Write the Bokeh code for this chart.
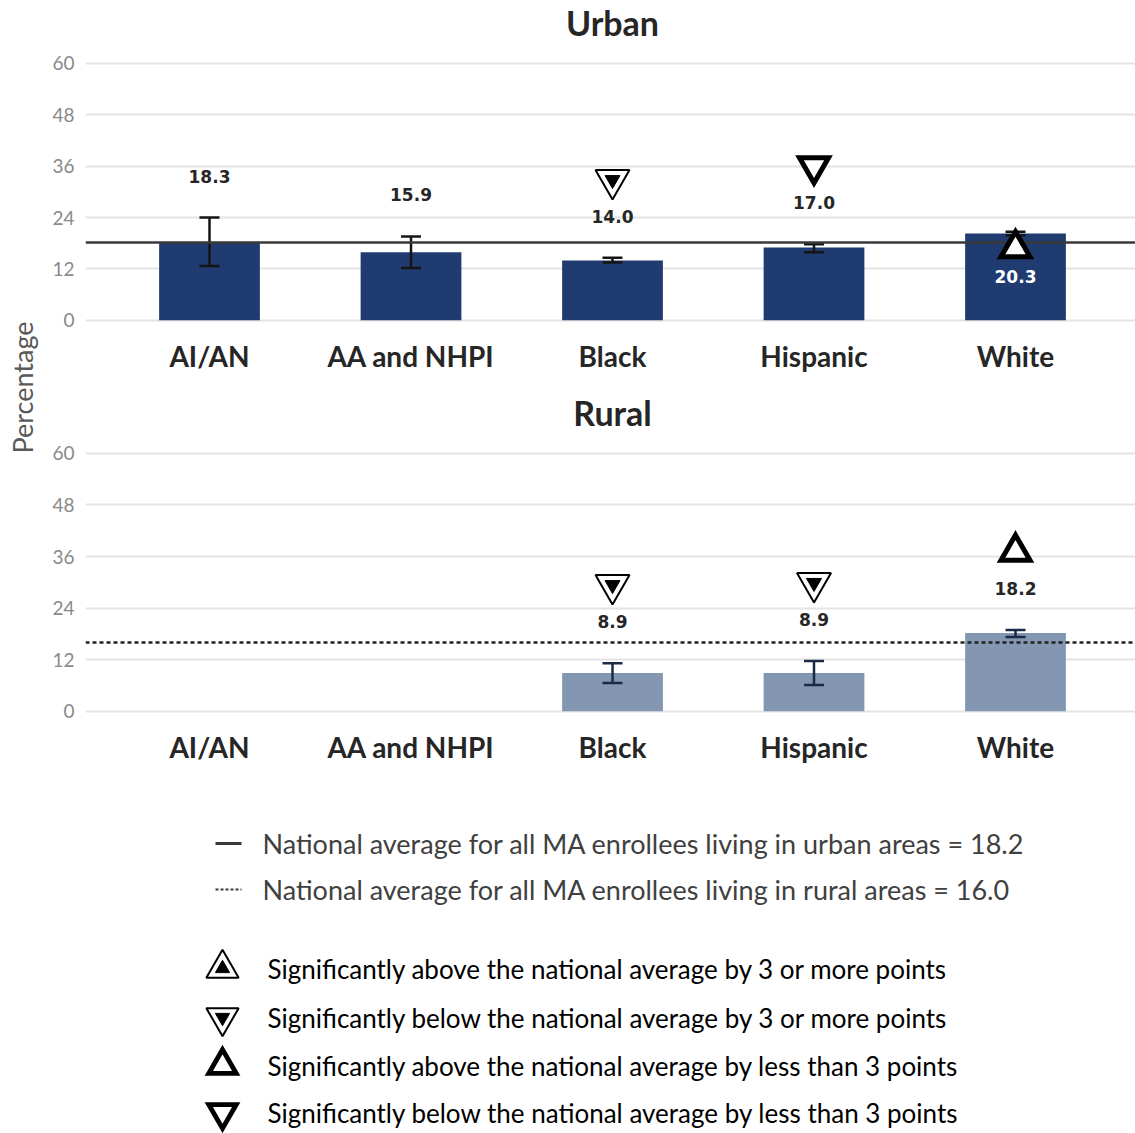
import math
from bokeh.plotting import figure
from bokeh.models import Range1d, FixedTicker, Span, Whisker, TeeHead, ColumnDataSource
from bokeh.layouts import column, row
from bokeh.core.properties import value
from bokeh.embed import file_html
from bokeh.resources import INLINE

# ---------------- data ----------------
categories = ["AI/AN", "AA and NHPI", "Black", "Hispanic", "White"]

urban_values = [18.3, 15.9, 14.0, 17.0, 20.3]
urban_lower = [12.7, 12.2, 13.5, 15.9, 19.9]
urban_upper = [24.0, 19.6, 14.6, 17.8, 20.7]
urban_sig = [None, None, "below3", "below_lt3", "above_lt3"]
urban_label_inside = [False, False, False, False, True]

rural_values = [None, None, 8.9, 8.9, 18.2]
rural_lower = [None, None, 6.6, 6.1, 17.3]
rural_upper = [None, None, 11.2, 11.7, 18.9]
rural_sig = [None, None, "below3", "below3", "above_lt3"]
rural_label_inside = [False, False, False, False, False]

urban_avg = 18.2
rural_avg = 16.0
y_ticks = [0, 12, 24, 36, 48, 60]

avg_legend = [
    "National average for all MA enrollees living in urban areas = 18.2",
    "National average for all MA enrollees living in rural areas = 16.0",
]
sig_legend_keys = ["above3", "below3", "above_lt3", "below_lt3"]
sig_legend_text = [
    "Significantly above the national average by 3 or more points",
    "Significantly below the national average by 3 or more points",
    "Significantly above the national average by less than 3 points",
    "Significantly below the national average by less than 3 points",
]

# ---------------- style ----------------
FONT = "Lato"
URBAN_COLOR = "#1f3b6f"
RURAL_COLOR = "#8397b3"
LABEL_GAP = 9.7     # value label above error bar top (data units)
MARK_GAP = 8.5      # marker above value label (data units)

X0 = -0.6154
X1 = 4.5955
PANEL_W = 1087
YLAB_W = 48


def add_markers(p, xs, ys, kinds, scale=1.0):
    for kind in ["above3", "below3", "above_lt3", "below_lt3"]:
        px = [x for x, k in zip(xs, kinds) if k == kind]
        py = [y for y, k in zip(ys, kinds) if k == kind]
        if not px:
            continue
        shape = "triangle" if kind.startswith("above") else "inverted_triangle"
        if kind.endswith("lt3"):
            r = p.scatter(px, py, marker=shape, size=29 * scale, fill_color="white",
                          line_color="black", line_width=5 * scale, line_join="miter")
            r.level = "overlay"
        else:
            r = p.scatter(px, py, marker=shape, size=34 * scale, fill_color="white",
                          line_color="black", line_width=2)
            r.level = "overlay"
            r2 = p.scatter(px, py, marker=shape, size=15 * scale, fill_color="black",
                           line_color="black", line_width=1)
            r2.level = "overlay"


def make_panel(title, vals, lower, upper, sig, inside, avg, dash, bar_color, err_color,
               height, y_end, border_bottom, title_y):
    p = figure(width=PANEL_W, height=height, x_range=Range1d(X0, X1),
               y_range=Range1d(-0.5, y_end),
               toolbar_location=None, output_backend="svg",
               min_border_left=37, min_border_right=0,
               min_border_top=0, min_border_bottom=border_bottom)
    p.outline_line_color = None
    p.background_fill_color = "white"
    p.border_fill_color = "white"

    p.yaxis.ticker = FixedTicker(ticks=y_ticks)
    p.yaxis.axis_line_color = None
    p.yaxis.major_tick_line_color = None
    p.yaxis.major_tick_out = 0
    p.yaxis.minor_tick_line_color = None
    p.yaxis.major_label_text_color = "#8a8a8a"
    p.yaxis.major_label_text_font = FONT
    p.yaxis.major_label_text_font_size = "19px"
    p.yaxis.major_label_standoff = 11

    p.xaxis.ticker = FixedTicker(ticks=list(range(len(categories))))
    p.xaxis.major_label_overrides = {i: c for i, c in enumerate(categories)}
    p.xaxis.axis_line_color = None
    p.xaxis.major_tick_line_color = None
    p.xaxis.major_tick_out = 0
    p.xaxis.minor_tick_line_color = None
    p.xaxis.major_label_text_color = "#262626"
    p.xaxis.major_label_text_font = FONT
    p.xaxis.major_label_text_font_style = "bold"
    p.xaxis.major_label_text_font_size = "28px"
    p.xaxis.major_label_standoff = 16

    p.xgrid.grid_line_color = None
    p.ygrid.ticker = FixedTicker(ticks=y_ticks)
    p.ygrid.grid_line_color = "#e4e4e4"
    p.ygrid.grid_line_width = 2

    idx = [i for i, v in enumerate(vals) if v is not None]
    src = ColumnDataSource(dict(x=idx, top=[vals[i] for i in idx],
                                lower=[lower[i] for i in idx], upper=[upper[i] for i in idx]))
    p.vbar(x="x", top="top", width=0.5, source=src, fill_color=bar_color, line_color=None)

    w = Whisker(base="x", upper="upper", lower="lower", source=src,
                line_color=err_color, line_width=2.5, level="annotation",
                upper_head=TeeHead(size=20, line_color=err_color, line_width=2.5),
                lower_head=TeeHead(size=20, line_color=err_color, line_width=2.5))
    p.add_layout(w)

    span = Span(location=avg, dimension="width",
                line_color="#3a3a3a" if dash is None else "#222222",
                line_width=2.5, level="annotation")
    if dash is not None:
        span.line_dash = dash
    p.add_layout(span)

    lab_x, lab_y, lab_c, lab_t = [], [], [], []
    mk_x, mk_y, mk_k = [], [], []
    for i in idx:
        if inside[i]:
            ly = vals[i] / 2
            lab_c.append("white")
        else:
            ly = upper[i] + LABEL_GAP
            lab_c.append("#262626")
        lab_x.append(i)
        lab_y.append(ly)
        lab_t.append(f"{vals[i]:.1f}")
        if sig[i] is not None:
            mk_x.append(i)
            mk_k.append(sig[i])
            mk_y.append(vals[i] - 3.5 if inside[i] else ly + MARK_GAP)
    t = p.text(x=lab_x, y=lab_y, text=lab_t, text_color=lab_c, text_align="center",
               text_baseline="middle", text_font=value("DejaVu Sans"),
               text_font_style="bold", text_font_size="17px")
    t.level = "overlay"
    add_markers(p, mk_x, mk_y, mk_k)

    tt = p.text(x=[2], y=[title_y], text=[title], text_align="center", text_baseline="middle",
                text_font=value(FONT), text_font_style="bold", text_font_size="34px",
                text_color="#262626")
    tt.level = "overlay"
    return p


# urban: page y 0..392, frame 0..322 ; rural: page y 392..780, frame 392..713
urban = make_panel("Urban", urban_values, urban_lower, urban_upper, urban_sig, urban_label_inside,
                   urban_avg, None, URBAN_COLOR, "#151515", 392, 74.7, 70, 69.6)
rural = make_panel("Rural", rural_values, rural_lower, rural_upper, rural_sig, rural_label_inside,
                   rural_avg, "4 3", RURAL_COLOR, "#1b2b45", 388, 74.15, 67, 69.5)

# y-axis title figure (page coordinates)
ylab = figure(width=YLAB_W, height=780, x_range=Range1d(0, YLAB_W), y_range=Range1d(780, 0),
              toolbar_location=None, output_backend="svg", min_border=0)
ylab.axis.visible = False
ylab.grid.visible = False
ylab.outline_line_color = None
ylab.text(x=[22], y=[387], text=["Percentage"], angle=math.pi / 2, text_align="center",
          text_baseline="middle", text_font=value(FONT), text_font_size="27px",
          text_color="#595959")

# legend figure (page coordinates)
leg = figure(width=1135, height=353, x_range=Range1d(0, 1135), y_range=Range1d(1133, 780),
             toolbar_location=None, output_backend="svg", min_border=0)
leg.axis.visible = False
leg.grid.visible = False
leg.outline_line_color = None

line_rows = [843, 889]
leg.segment(x0=[215], y0=[line_rows[0]], x1=[241], y1=[line_rows[0]], line_color="#3a3a3a",
            line_width=3)
leg.segment(x0=[215], y0=[line_rows[1]], x1=[241], y1=[line_rows[1]], line_color="#3a3a3a",
            line_width=2, line_dash="3 2")
leg.text(x=[262, 262], y=line_rows, text=avg_legend, text_align="left", text_baseline="middle",
         text_font=value(FONT), text_font_size="27px", text_color="#404040")

sig_rows = [968, 1017, 1065, 1112]
add_markers(leg, [222] * 4, sig_rows, sig_legend_keys, scale=0.95)
leg.text(x=[267] * 4, y=sig_rows, text=sig_legend_text, text_align="left", text_baseline="middle",
         text_font=value(FONT), text_font_size="26px", text_color="black")

layout = column(row(ylab, column(urban, rural, spacing=0), spacing=0), leg, spacing=0)

open("out.html", "w").write(file_html(layout, INLINE))
